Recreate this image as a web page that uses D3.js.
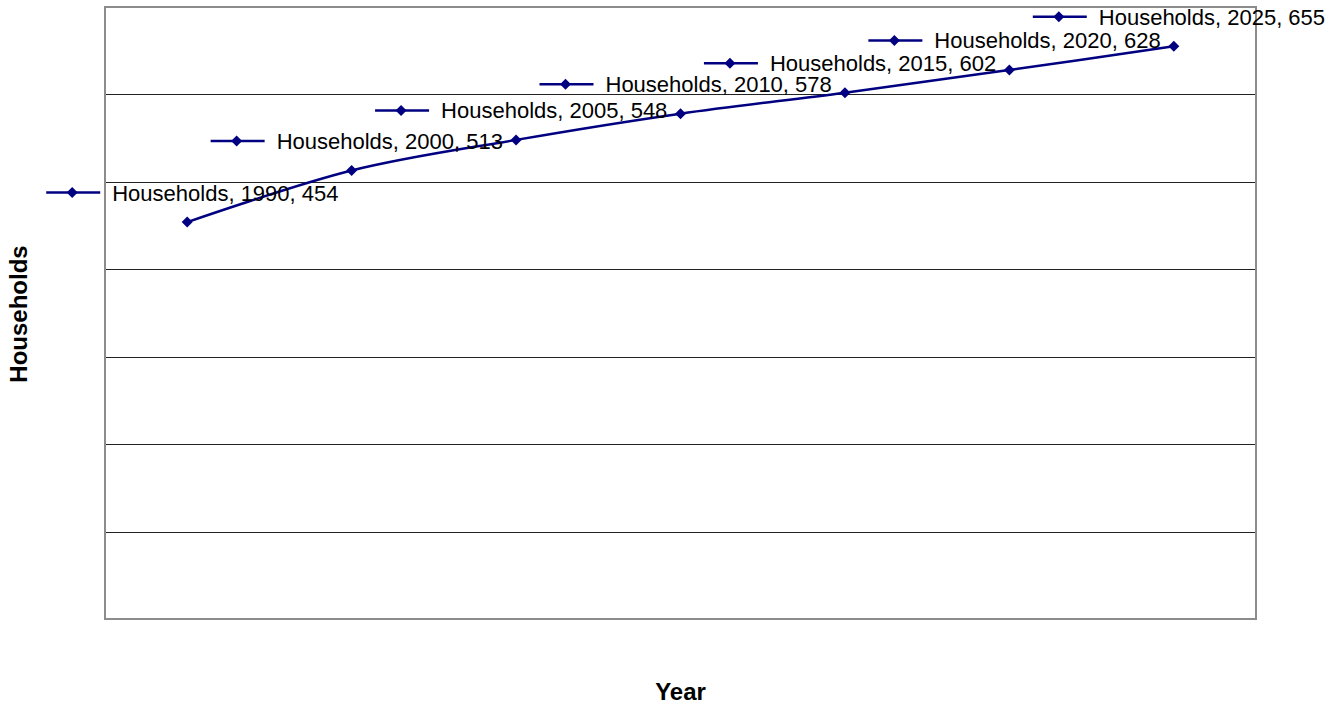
<!DOCTYPE html>
<html>
<head>
<meta charset="utf-8">
<script src="https://cdn.jsdelivr.net/npm/d3@7"></script>
<style>
  html, body { margin: 0; padding: 0; background: #fff; }
  svg { display: block; font-family: "Liberation Sans", Arial, sans-serif; }
</style>
</head>
<body>
<svg id="chart" width="1342" height="704"></svg>
<script>
// Household projections by year
const years = ["1990", "2000", "2005", "2010", "2015", "2020", "2025"];
const households = [454, 513, 548, 578, 602, 628, 655];
const seriesName = "Households";
const gridValues = [0, 100, 200, 300, 400, 500, 600, 700];

const plot = { left: 105, right: 1256, top: 7, bottom: 619 };
const lineColor = "#000080";

const svg = d3.select("#chart");

const x = d3.scaleBand()
  .domain(years)
  .range([plot.left, plot.right])
  .paddingInner(0).paddingOuter(0);

const y = d3.scaleLinear()
  .domain([0, 700])
  .range([plot.bottom, plot.top]);

const cx = d => x(d) + x.bandwidth() / 2;

// Horizontal gridlines
svg.append("g")
  .selectAll("line")
  .data(gridValues.filter(v => v > 0 && v < 700))
  .join("line")
  .attr("x1", plot.left).attr("x2", plot.right)
  .attr("y1", d => Math.round(y(d)) + 0.5)
  .attr("y2", d => Math.round(y(d)) + 0.5)
  .attr("stroke", "#222")
  .attr("stroke-width", 1);

// Plot-area frame
svg.append("rect")
  .attr("x", plot.left).attr("y", plot.top)
  .attr("width", plot.right - plot.left)
  .attr("height", plot.bottom - plot.top)
  .attr("fill", "none")
  .attr("stroke", "#8c8c8c")
  .attr("stroke-width", 2);

const pts = years.map((yr, i) => ({ year: yr, value: households[i] }));

// Smoothed series line
const line = d3.line()
  .x(d => cx(d.year))
  .y(d => y(d.value))
  .curve(d3.curveCatmullRom.alpha(0.5));

svg.append("path")
  .datum(pts)
  .attr("d", line)
  .attr("fill", "none")
  .attr("stroke", lineColor)
  .attr("stroke-width", 2.5);

// Diamond marker, half-diagonal r
const r = 5.5;
const diamond = `M0,${-r}L${r},0L0,${r}L${-r},0Z`;

// Markers
svg.append("g")
  .selectAll("path")
  .data(pts)
  .join("path")
  .attr("d", diamond)
  .attr("transform", d => `translate(${cx(d.year)},${y(d.value)})`)
  .attr("fill", lineColor);

// Data labels with legend key
const labels = svg.append("g")
  .selectAll("g")
  .data(pts)
  .join("g")
  .attr("transform", d => `translate(${cx(d.year) - 115},${y(d.value) - 29.5})`);

labels.append("line")
  .attr("x1", -26).attr("x2", 28)
  .attr("y1", 0).attr("y2", 0)
  .attr("stroke", lineColor)
  .attr("stroke-width", 2.5);

labels.append("path")
  .attr("d", diamond)
  .attr("fill", lineColor);

labels.append("text")
  .attr("x", 40)
  .attr("y", 8)
  .attr("font-size", 22)
  .attr("fill", "#000")
  .text(d => `${seriesName}, ${d.year}, ${d.value}`);

// Axis titles
svg.append("text")
  .attr("x", (plot.left + plot.right) / 2)
  .attr("y", 700)
  .attr("text-anchor", "middle")
  .attr("font-size", 24)
  .attr("font-weight", "bold")
  .text("Year");

svg.append("text")
  .attr("transform", `translate(27,${(plot.top + plot.bottom) / 2 + 1}) rotate(-90)`)
  .attr("text-anchor", "middle")
  .attr("font-size", 24)
  .attr("font-weight", "bold")
  .text("Households");
</script>
</body>
</html>
